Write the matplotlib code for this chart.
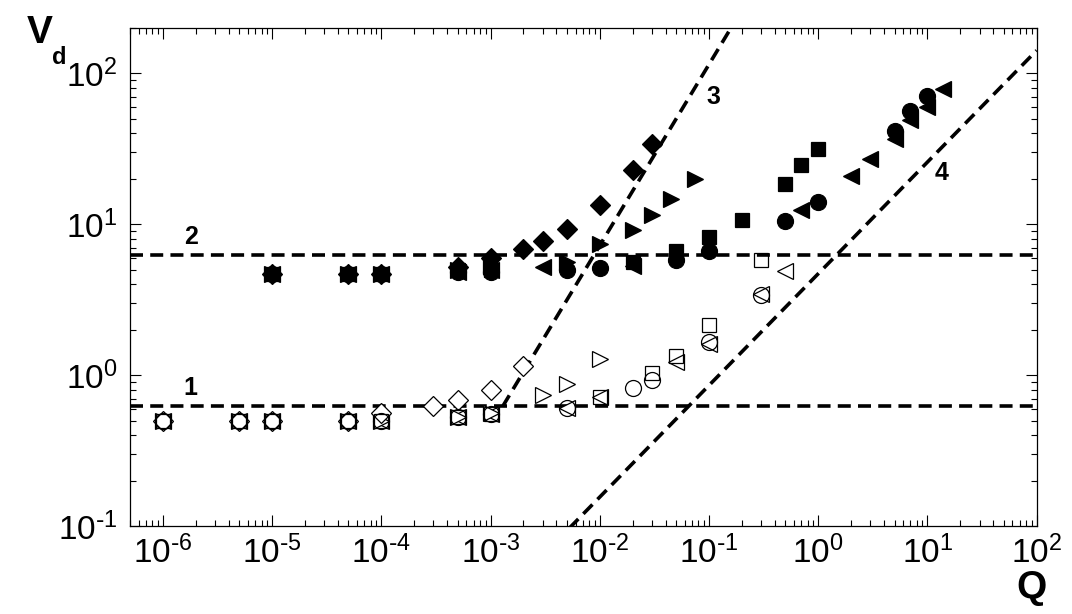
import numpy as np
import matplotlib
matplotlib.use("Agg")
import matplotlib.pyplot as plt
from matplotlib.ticker import FuncFormatter, FixedLocator, NullFormatter

plt.rcParams['font.family'] = ['Liberation Sans', 'DejaVu Sans']
plt.rcParams['mathtext.default'] = 'regular'
plt.rcParams['axes.unicode_minus'] = False

# ---- data ----
low_q_open = [1e-6, 5e-6, 1e-5, 5e-5, 1e-4]
low_q_fill = [1e-5, 5e-5, 1e-4]

# open markers (lower group)
od_q = low_q_open + [3e-4, 5e-4, 1e-3, 2e-3]
od_v = [0.5, 0.5, 0.5, 0.5, 0.56, 0.62, 0.68, 0.80, 1.15]
ort_q = low_q_open + [5e-4, 1e-3, 3e-3, 5e-3, 1e-2]
ort_v = [0.5, 0.5, 0.5, 0.5, 0.5, 0.53, 0.56, 0.74, 0.88, 1.28]
osq_q = low_q_open + [5e-4, 1e-3, 1e-2, 3e-2, 5e-2, 0.1, 0.3]
osq_v = [0.5, 0.5, 0.5, 0.5, 0.5, 0.53, 0.55, 0.72, 1.04, 1.33, 2.15, 5.8]
oc_q = low_q_open + [5e-4, 1e-3, 5e-3, 2e-2, 3e-2, 0.1, 0.3]
oc_v = [0.5, 0.5, 0.5, 0.5, 0.5, 0.53, 0.55, 0.61, 0.82, 0.93, 1.65, 3.4]
olt_q = low_q_open + [5e-4, 1e-3, 5e-3, 1e-2, 5e-2, 0.1, 0.3, 0.5]
olt_v = [0.5, 0.5, 0.5, 0.5, 0.5, 0.53, 0.55, 0.61, 0.72, 1.22, 1.6, 3.45, 4.9]

# filled markers (upper group)
fd_q = low_q_fill + [5e-4, 1e-3, 2e-3, 3e-3, 5e-3, 1e-2, 2e-2, 3e-2]
fd_v = [4.7, 4.7, 4.7, 5.2, 6.0, 6.9, 7.7, 9.3, 13.4, 23.0, 34.0]
frt_q = low_q_fill + [5e-4, 1e-3, 5e-3, 1e-2, 2e-2, 3e-2, 4.5e-2, 7.5e-2]
frt_v = [4.7, 4.7, 4.7, 5.0, 5.3, 5.6, 7.4, 9.1, 11.5, 14.7, 20.0]
fsq_q = low_q_fill + [5e-4, 1e-3, 2e-2, 5e-2, 0.1, 0.2, 0.5, 0.7, 1.0]
fsq_v = [4.7, 4.7, 4.7, 5.0, 5.0, 5.6, 6.7, 8.2, 10.7, 18.5, 24.7, 31.6]
fc_q = low_q_fill + [5e-4, 1e-3, 5e-3, 1e-2, 5e-2, 0.1, 0.5, 1.0, 5.0, 7.0, 10.0]
fc_v = [4.7, 4.7, 4.7, 4.8, 4.8, 5.0, 5.1, 5.8, 6.7, 10.5, 14.0, 41.7, 56.7, 71.0]
flt_q = low_q_fill + [5e-4, 1e-3, 3e-3, 2e-2, 0.7, 2.0, 3.0, 5.0, 7.0, 10.0, 14.0]
flt_v = [4.7, 4.7, 4.7, 4.8, 5.0, 5.2, 5.3, 12.4, 21.0, 27.0, 37.0, 49.0, 60.0, 79.0]

# tick positions (decades)
x_decades = [-6, -5, -4, -3, -2, -1, 0, 1, 2]
y_decades = [-1, 0, 1, 2]

# reference lines
v_line1 = 0.62
v_line2 = 6.3
line3_q0, line3_slope = 1.29e-3, 1.2      # starts on line 1
line4_a, line4_slope = 4.7, 0.74

x_min, x_max = 5e-7, 1e2
y_min, y_max = 1e-1, 200

fig = plt.figure(figsize=(10.72, 6.14), dpi=100)
ax = fig.add_axes([0.1213, 0.1433, 0.8457, 0.8111])
ax.set_xscale('log')
ax.set_yscale('log')
ax.set_xlim(x_min, x_max)
ax.set_ylim(y_min, y_max)

dash = (0, (3.6, 2.0))
lw = 2.6
ax.plot([x_min, x_max], [v_line1, v_line1], color='black', lw=lw, ls=dash, zorder=1)
ax.plot([x_min, x_max], [v_line2, v_line2], color='black', lw=lw, ls=dash, zorder=1)
q3 = np.logspace(np.log10(line3_q0), np.log10(1.0), 50)
ax.plot(q3, v_line1 * (q3 / line3_q0) ** line3_slope, color='black', lw=lw, ls=dash, zorder=1)
q4 = np.logspace(np.log10(x_min), np.log10(x_max), 50)
ax.plot(q4, line4_a * q4 ** line4_slope, color='black', lw=lw, ls=dash, zorder=1)

ms = 11.5
mew = 0.9
open_kw = dict(ls='none', mfc='white', mec='black', mew=mew, ms=ms, zorder=3)
ax.plot(olt_q, olt_v, marker='<', **open_kw)
ax.plot(ort_q, ort_v, marker='>', **open_kw)
ax.plot(od_q, od_v, marker='D', **{**open_kw, 'ms': ms * 0.85})
ax.plot(osq_q, osq_v, marker='s', **{**open_kw, 'ms': ms * 0.9, 'mfc': 'none'})
ax.plot(oc_q, oc_v, marker='o', **{**open_kw, 'mfc': 'none'})

fill_kw = dict(ls='none', mfc='black', mec='black', mew=mew, ms=ms, zorder=4)
ax.plot(fd_q, fd_v, marker='D', **{**fill_kw, 'ms': ms * 0.85})
ax.plot(frt_q, frt_v, marker='>', **fill_kw)
ax.plot(fsq_q, fsq_v, marker='s', **{**fill_kw, 'ms': ms * 0.9})
ax.plot(fc_q, fc_v, marker='o', **fill_kw)
ax.plot(flt_q, flt_v, marker='<', **fill_kw)

# line labels
lab_kw = dict(fontsize=18, fontweight='bold', ha='center', va='center')
ax.text(1.8e-6, 0.82, '1', **lab_kw)
ax.text(1.8e-6, 8.2, '2', **lab_kw)
ax.text(0.11, 70, '3', **lab_kw)
ax.text(13.5, 22, '4', **lab_kw)


def pow10(val, pos):
    n = int(round(np.log10(val)))
    if n < 0:
        return r'$10^{\text{-}%d}$' % (-n)
    return r'$10^{%d}$' % n


def minor_positions(decades, lo, hi):
    out = []
    for d in range(min(decades) - 1, max(decades) + 1):
        for m in range(2, 10):
            v = m * 10.0 ** d
            if lo <= v <= hi:
                out.append(v)
    return out


ax.xaxis.set_major_locator(FixedLocator([10.0 ** d for d in x_decades]))
ax.yaxis.set_major_locator(FixedLocator([10.0 ** d for d in y_decades]))
ax.xaxis.set_minor_locator(FixedLocator(minor_positions(x_decades, x_min, x_max)))
ax.yaxis.set_minor_locator(FixedLocator(minor_positions(y_decades + [3], y_min, y_max)))
ax.xaxis.set_major_formatter(FuncFormatter(pow10))
ax.yaxis.set_major_formatter(FuncFormatter(pow10))
ax.xaxis.set_minor_formatter(NullFormatter())
ax.yaxis.set_minor_formatter(NullFormatter())

ax.tick_params(which='both', direction='in', top=True, right=True, labelsize=24)
ax.tick_params(which='major', length=8, width=0.8)
ax.tick_params(which='minor', length=4.5, width=0.8)
ax.tick_params(axis='x', pad=7)
ax.tick_params(axis='y', pad=9)
for s in ax.spines.values():
    s.set_linewidth(0.9)

fig.text(40 / 1072, 1 - 33 / 614, 'V', fontsize=28, fontweight='bold', ha='center', va='center')
fig.text(59 / 1072, 1 - 57 / 614, 'd', fontsize=17, fontweight='bold', ha='center', va='center')
fig.text(1032 / 1072, 1 - 588 / 614, 'Q', fontsize=28, fontweight='bold', ha='center', va='center')

fig.savefig('out.png', dpi=100)
